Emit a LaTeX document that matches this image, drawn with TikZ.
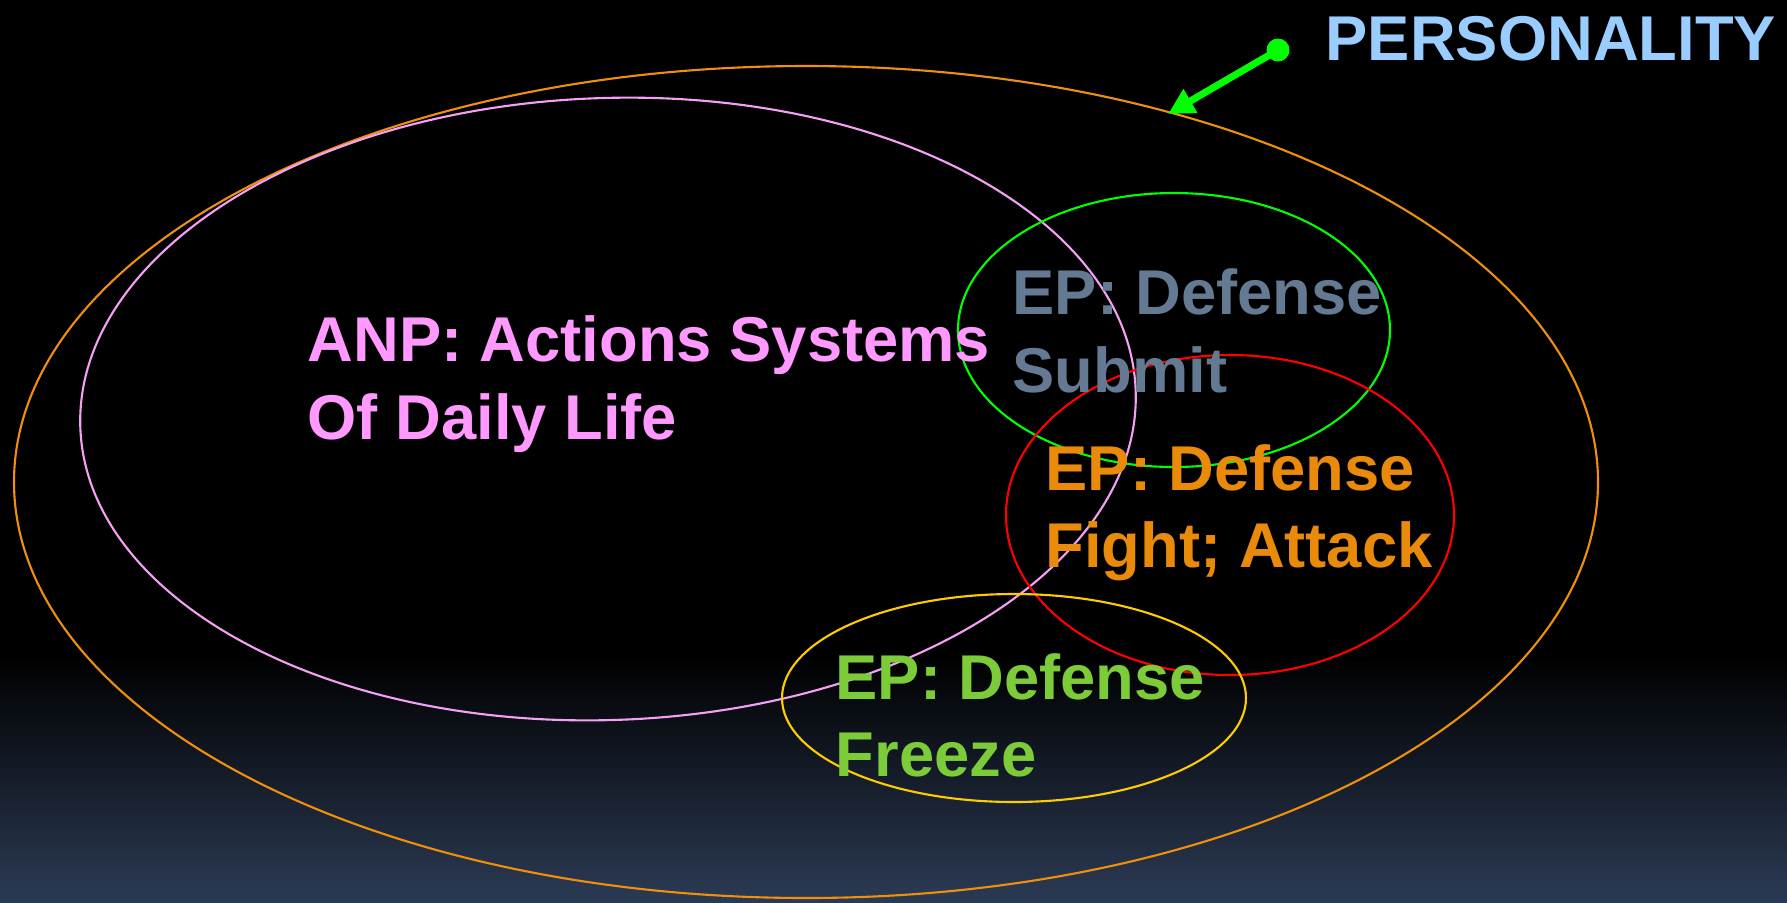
\documentclass[tikz,border=0pt]{standalone}
\usepackage{fontspec}
\setmainfont{Liberation Sans}
\usetikzlibrary{arrows.meta}
\usepackage{xcolor}

\definecolor{bgbottom}{HTML}{2B3A54}
\definecolor{persblue}{HTML}{99CCFF}
\definecolor{anppink}{HTML}{FF99FF}
\definecolor{submitgray}{HTML}{647992}
\definecolor{fightorange}{HTML}{E98A0A}
\definecolor{freezegreen}{HTML}{7CCC3A}
\definecolor{outerorange}{HTML}{F0900A}
\definecolor{ringpink}{HTML}{F5A0F5}
\definecolor{ringyellow}{HTML}{FFCC00}

\begin{document}
\begin{tikzpicture}[x=0.01cm, y=-0.01cm,
    ring/.style={line width=0.6pt},
    lbl/.style={anchor=base west, inner sep=0pt, align=left,
      font=\bfseries\fontsize{18}{21.9}\selectfont}]
  % Background
  \fill[black] (0,0) rectangle (1787,902);
  \shade[top color=black, bottom color=bgbottom] (0,655) rectangle (1787,902);
  \useasboundingbox (0,0) rectangle (1787,902);

  % Personality (outer ellipse)
  \draw[ring, outerorange] (806,482) ellipse [x radius=792, y radius=416];

  % ANP ellipse, slightly tilted
  \draw[ring, ringpink, rotate around={2:(608,409)}]
    (608,409) ellipse [x radius=528, y radius=311];

  % EP ellipses
  \draw[ring, green] (1174,330) ellipse [x radius=216, y radius=137];
  \draw[ring, red] (1230,515) ellipse [x radius=224, y radius=160];
  \draw[ring, ringyellow] (1014,698) ellipse [x radius=232, y radius=104];

  % Labels (placed at the baseline of the last line)
  \node[lbl, text=anppink] (anp) at (307,439) {ANP: Actions Systems\\Of Daily Life};
  \node[lbl, text=submitgray] (submit) at (1012,392) {EP: Defense\\Submit};
  \node[lbl, text=fightorange] (fight) at (1045,567) {EP: Defense\\Fight; Attack};
  \node[lbl, text=freezegreen] (freeze) at (835,776) {EP: Defense\\Freeze};
  \node[lbl, text=persblue] (pers) at (1325,60) {PERSONALITY};

  % Pointer to the outer ellipse
  \coordinate (edge) at (1168,114);
  \fill[green] (1278,50) circle (11.5) coordinate (dot);
  \draw[green, line width=2pt, -{Triangle[length=0.26cm, width=0.26cm]}]
    (dot) -- (edge);

\end{tikzpicture}
\end{document}
